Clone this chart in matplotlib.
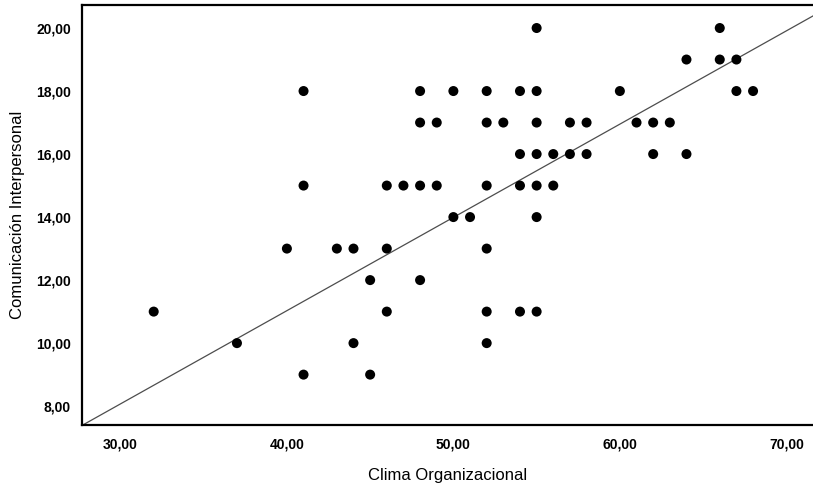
import matplotlib.pyplot as plt
import numpy as np

plt.rcParams["font.family"] = ["Liberation Sans", "DejaVu Sans"]

# Clima Organizacional (x) vs Comunicación Interpersonal (y)
clima = [
    32, 37, 40, 41, 41, 41, 43, 44, 44, 45, 45, 46, 46, 46, 47,
    48, 48, 48, 48, 49, 49, 50, 50, 51, 52, 52, 52, 52, 52, 52,
    53, 54, 54, 54, 54, 55, 55, 55, 55, 55, 55, 55, 56, 56, 57,
    57, 58, 58, 60, 61, 62, 62, 63, 64, 64, 66, 66, 67, 67, 68,
]
comunicacion = [
    11, 10, 13, 18, 15, 9, 13, 13, 10, 12, 9, 15, 13, 11, 15,
    18, 17, 15, 12, 17, 15, 18, 14, 14, 18, 17, 15, 13, 11, 10,
    17, 18, 16, 15, 11, 20, 18, 17, 16, 15, 14, 11, 16, 15, 17,
    16, 17, 16, 18, 17, 17, 16, 17, 19, 16, 20, 19, 19, 18, 18,
]

# fit line
fit_slope = 0.296
fit_intercept = -0.81

x_ticks = [30, 40, 50, 60, 70]
y_ticks = [8, 10, 12, 14, 16, 18, 20]


def main() -> None:
    fig = plt.figure(figsize=(8.13, 4.83), dpi=100)
    ax = fig.add_axes([0.101, 0.12, 0.899, 0.8696])

    xlim = (27.7, 71.6)
    ylim = (7.4, 20.73)

    xs = np.array(xlim)
    ax.plot(xs, fit_intercept + fit_slope * xs, color="#4d4d4d", linewidth=0.9, zorder=1)

    ax.scatter(clima, comunicacion, s=52, color="black", edgecolors="none", zorder=2)

    ax.set_xlim(*xlim)
    ax.set_ylim(*ylim)
    ax.set_xticks(x_ticks)
    ax.set_yticks(y_ticks)
    ax.set_xticklabels([f"{v:.2f}".replace(".", ",") for v in x_ticks],
                       fontsize=10, fontweight="bold")
    ax.set_yticklabels([f"{v:.2f}".replace(".", ",") for v in y_ticks],
                       fontsize=10, fontweight="bold")
    ax.tick_params(axis="x", length=0, pad=9)
    ax.tick_params(axis="y", length=0, pad=8)

    for side in ("left", "bottom", "top"):
        ax.spines[side].set_linewidth(1.6)
        ax.spines[side].set_color("black")
    ax.spines["right"].set_visible(False)

    ax.set_xlabel("Clima Organizacional", fontsize=12, labelpad=12)
    ax.set_ylabel("Comunicación Interpersonal", fontsize=12, labelpad=8)

    fig.savefig("out.png", dpi=100)


if __name__ == "__main__":
    main()
